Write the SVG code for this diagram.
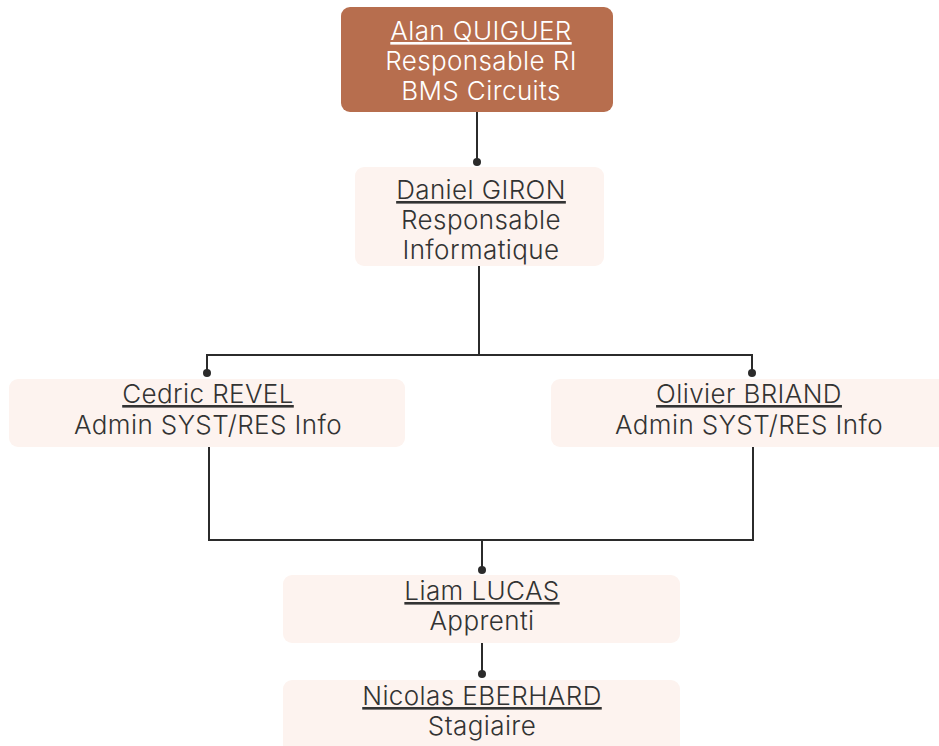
<svg xmlns="http://www.w3.org/2000/svg" width="939" height="746" viewBox="0 0 939 746">
<style>
.box{fill:#FDF3EF}
.top{fill:#B76E4E}
text{font-family:Inter,"Noto Sans","Liberation Sans",sans-serif;font-size:26px;font-weight:300;letter-spacing:0.4px;text-anchor:middle;fill:#333}
.w{fill:#fff}
.n{text-decoration:underline}
.c{fill:none;stroke:#2b2b2b;stroke-width:2}
.d{fill:#2b2b2b}
</style>
<rect width="939" height="746" fill="#fff"/>
<g id="connectors">
<path class="c" d="M477 112V162"/>
<circle class="d" cx="477" cy="162" r="4"/>
<path class="c" d="M479 266V355M207 373V355H752V373"/>
<circle class="d" cx="207" cy="373" r="4"/>
<circle class="d" cx="752" cy="373" r="4"/>
<path class="c" d="M209 447V540H753V447M482 540V570"/>
<circle class="d" cx="482" cy="570" r="4"/>
<path class="c" d="M482 643V674"/>
<circle class="d" cx="482" cy="674" r="4"/>
</g>
<g id="alan">
<rect class="top" x="341" y="7" width="272" height="105" rx="9"/>
<text class="w" x="481" y="40"><tspan class="n">Alan QUIGUER</tspan></text>
<text class="w" x="481" y="70">Responsable RI</text>
<text class="w" x="481" y="100">BMS Circuits</text>
</g>
<g id="daniel">
<rect class="box" x="355" y="167" width="249" height="99" rx="9"/>
<text x="481" y="199"><tspan class="n">Daniel GIRON </tspan></text>
<text x="481" y="229">Responsable</text>
<text x="481" y="259">Informatique</text>
</g>
<g id="cedric">
<rect class="box" x="9" y="379" width="396" height="68" rx="9"/>
<text x="208" y="403"><tspan class="n">Cedric REVEL</tspan></text>
<text x="208" y="434">Admin SYST/RES Info</text>
</g>
<g id="olivier">
<rect class="box" x="551" y="379" width="400" height="68" rx="9"/>
<text x="749" y="403"><tspan class="n">Olivier BRIAND</tspan></text>
<text x="749" y="434">Admin SYST/RES Info</text>
</g>
<g id="liam">
<rect class="box" x="283" y="575" width="397" height="68" rx="9"/>
<text x="482" y="600"><tspan class="n">Liam LUCAS</tspan></text>
<text x="482" y="630">Apprenti</text>
</g>
<g id="nicolas">
<rect class="box" x="283" y="680" width="397" height="80" rx="9"/>
<text x="482" y="705"><tspan class="n">Nicolas EBERHARD </tspan></text>
<text x="482" y="735">Stagiaire</text>
</g>
</svg>
